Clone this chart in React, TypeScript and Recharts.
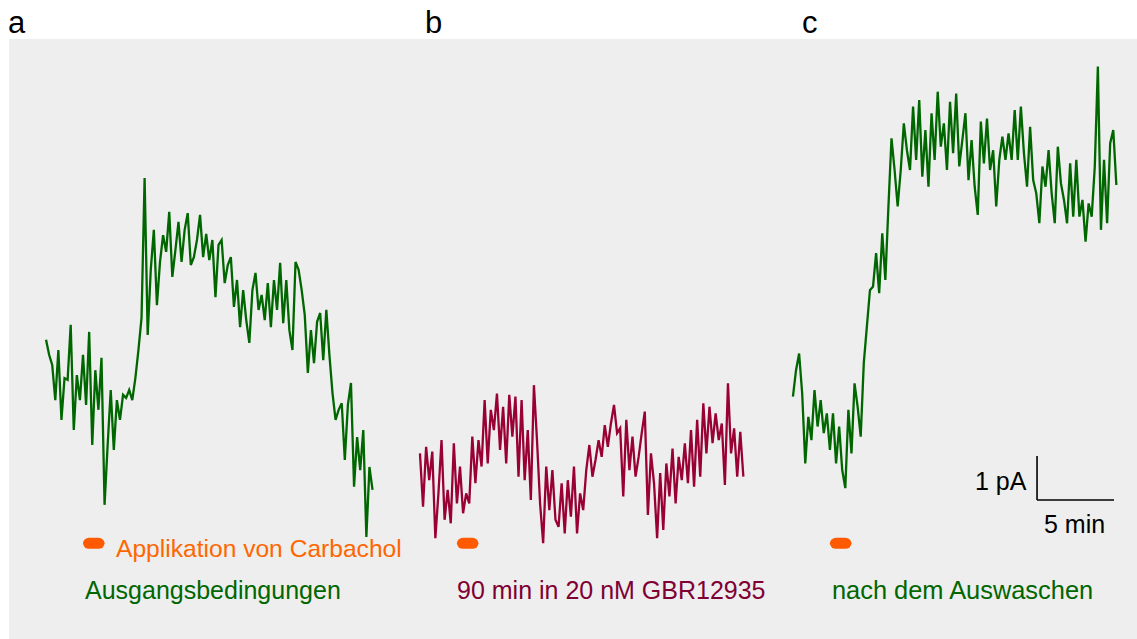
import React from 'react';
import { LineChart, Line, XAxis, YAxis, ReferenceLine, ReferenceArea } from 'recharts';

const W = 1137;
const H = 639;
const PX_PER_MIN = 15.4; // 5 min scale bar = 77 px
const PX_PER_PA = 44; // 1 pA scale bar = 44 px
const ZERO_Y = 500; // pixel row of 0 pA (scale bar base)

const SAMPLE_MIN = 0.2;
const traceStarts = [2.99, 27.27, 51.49];
const pulseWindow = [2.4, 3.8]; // Carbachol application, min after trace start

// a: Ausgangsbedingungen (pA)
const controlPA = [
  3.64, 3.30, 3.07, 2.27, 3.41, 1.82, 2.77, 2.73, 3.98, 1.59,
  2.84, 2.27, 3.30, 2.16, 3.82, 1.25, 2.95, 2.05, 3.23, -0.11,
  1.25, 2.50, 1.14, 2.27, 1.82, 2.39, 2.32, 2.50, 2.27, 2.77,
  3.41, 4.14, 7.32, 3.75, 5.23, 6.14, 4.43, 5.41, 6.02, 5.64,
  6.55, 5.07, 5.68, 6.32, 5.41, 6.14, 6.52, 5.34, 5.52, 5.91,
  6.48, 5.52, 6.05, 5.45, 5.91, 4.61, 5.80, 5.91, 4.93, 5.34,
  5.52, 4.39, 5.00, 3.93, 4.77, 4.09, 3.57, 4.77, 5.16, 4.32,
  4.66, 4.09, 4.93, 3.93, 5.00, 4.32, 5.39, 4.02, 5.00, 3.86,
  3.41, 5.41, 5.23, 4.77, 4.20, 2.89, 3.86, 3.11, 4.05, 4.25,
  3.18, 4.32, 3.30, 2.43, 1.82, 2.05, 2.20, 0.91, 2.16, 2.66,
  0.30, 1.43, 0.68, 1.59, -0.84, 0.75, 0.23,
];

// b: 90 min in 20 nM GBR12935 (pA)
const gbrPA = [
  1.06, -0.15, 1.21, 0.45, 1.10, -0.87, 0.15, 1.36, -0.45, 0.23,
  -0.53, 1.29, -0.08, 0.76, -0.30, 0.15, -0.08, 1.44, 0.38, 1.36,
  0.76, 2.27, 0.83, 2.05, 1.59, 2.42, 1.14, 2.12, 0.83, 2.39,
  1.44, 2.35, 0.53, 2.27, 0.45, 1.59, 0.00, 2.61, 1.36, -0.08,
  -0.98, 0.76, -0.23, 0.68, -0.45, -0.61, 0.38, -0.76, 0.45, -0.38,
  0.76, -0.76, 0.15, -0.23, 0.68, 1.25, 0.53, 0.91, 1.36, 0.98,
  1.70, 1.21, 1.74, 2.16, 1.52, 1.63, 0.08, 1.82, 0.68, 1.44,
  0.53, 0.98, 1.52, 2.01, -0.34, 1.06, 0.38, -0.87, 0.61, -0.68,
  0.83, 0.08, 1.17, -0.08, 0.98, 0.45, 1.29, 0.38, 1.59, 0.30,
  1.82, 0.53, 2.20, 1.06, 2.12, 1.29, 1.97, 1.36, 1.74, 0.34,
  2.65, 1.06, 1.63, 0.53, 1.55, 0.53,
];

// c: nach dem Auswaschen (pA)
const washoutPA = [
  2.35, 2.95, 3.33, 2.42, 0.83, 1.89, 1.36, 2.50, 1.67, 2.27,
  1.52, 1.97, 1.14, 1.97, 0.83, 1.67, 0.68, 0.27, 2.05, 1.06,
  2.65, 2.12, 1.44, 3.11, 3.94, 4.77, 4.85, 5.61, 4.70, 6.06,
  5.00, 6.67, 8.22, 7.50, 6.67, 7.50, 8.56, 7.95, 7.50, 8.94,
  7.73, 9.09, 7.35, 8.41, 7.12, 8.79, 7.73, 9.28, 8.03, 8.56,
  7.50, 9.05, 7.88, 9.24, 7.58, 8.18, 8.79, 7.27, 8.18, 7.12,
  6.48, 8.60, 7.65, 8.67, 7.50, 7.95, 6.67, 7.73, 8.26, 7.73,
  8.33, 7.73, 8.86, 7.73, 8.94, 7.88, 7.12, 8.48, 7.27, 6.97,
  6.29, 7.58, 7.12, 7.95, 6.97, 6.29, 8.03, 7.20, 6.82, 6.29,
  7.65, 6.44, 7.73, 6.44, 6.82, 5.87, 6.74, 6.44, 7.58, 9.85,
  6.14, 7.73, 6.29, 8.11, 8.41, 7.16,
];

const panelLabels = ['a', 'b', 'c'];
const captions = ['Ausgangsbedingungen', '90 min in 20 nM GBR12935', 'nach dem Auswaschen'];
const pulseLabel = 'Applikation von Carbachol';
const scaleBar = { x: 67.34, minutes: 5, pA: 1 };

const GREEN = '#006600';
const CRIMSON = '#990033';
const ORANGE = '#ff6600';

const toSeries = (vals: number[], start: number) =>
  vals.map((v, i) => ({ t: +(start + i * SAMPLE_MIN).toFixed(2), v }));

const traces = [
  { name: 'control', data: toSeries(controlPA, traceStarts[0]), color: GREEN },
  { name: 'gbr', data: toSeries(gbrPA, traceStarts[1]), color: CRIMSON },
  { name: 'washout', data: toSeries(washoutPA, traceStarts[2]), color: GREEN },
];

const Pill = (props: any) => (
  <rect x={props.x} y={props.y} width={props.width} height={props.height} rx={6} ry={6} fill="#ff5a00" />
);

export default function App() {
  const font = '"Liberation Sans", Arial, sans-serif';
  return (
    <div style={{ position: 'relative', width: W, height: H, background: '#fff', fontFamily: font }}>
      <style>{'body{margin:0}'}</style>
      <div style={{ position: 'absolute', left: 9, top: 39, right: 0, bottom: 0, background: '#eeeeee' }} />
      <div style={{ position: 'absolute', left: 0, top: 0 }}>
        <LineChart width={W} height={H} margin={{ top: 0, right: 0, bottom: 0, left: 0 }}>
          <XAxis type="number" dataKey="t" hide domain={[0, W / PX_PER_MIN]} allowDataOverflow />
          <YAxis type="number" dataKey="v" hide domain={[(ZERO_Y - H) / PX_PER_PA, ZERO_Y / PX_PER_PA]} allowDataOverflow />
          {traceStarts.map((s) => (
            <ReferenceArea
              key={'p' + s}
              x1={s + pulseWindow[0]}
              x2={s + pulseWindow[1]}
              y1={-0.86}
              y2={-1.11}
              shape={Pill}
            />
          ))}
          {traces.map((tr) => (
            <Line
              key={tr.name}
              data={tr.data}
              dataKey="v"
              type="linear"
              stroke={tr.color}
              strokeWidth={2.3}
              strokeLinejoin="miter"
              dot={false}
              activeDot={false}
              isAnimationActive={false}
            />
          ))}
          <ReferenceLine
            segment={[{ x: scaleBar.x, y: 0 }, { x: scaleBar.x, y: scaleBar.pA }]}
            stroke="#000"
            strokeWidth={1.6}
          />
          <ReferenceLine
            segment={[{ x: scaleBar.x, y: 0 }, { x: scaleBar.x + scaleBar.minutes, y: 0 }]}
            stroke="#000"
            strokeWidth={1.6}
          />
        </LineChart>
      </div>
      <svg width={W} height={H} style={{ position: 'absolute', left: 0, top: 0, pointerEvents: 'none' }}>
        <g fontFamily={font} fontSize={31} fill="#000">
          <text x={8} y={33}>{panelLabels[0]}</text>
          <text x={425} y={33}>{panelLabels[1]}</text>
          <text x={802} y={33}>{panelLabels[2]}</text>
        </g>
        <text x={116} y={557} fontFamily={font} fontSize={24.6} fill={ORANGE}>{pulseLabel}</text>
        <g fontFamily={font} fontSize={25}>
          <text x={85} y={599} fill={GREEN}>{captions[0]}</text>
          <text x={457} y={599} fill="#800033">{captions[1]}</text>
          <text x={832} y={599} fontSize={25.4} fill={GREEN}>{captions[2]}</text>
        </g>
        <g fontFamily={font} fontSize={25} fill="#000">
          <text x={975} y={490}>1 pA</text>
          <text x={1044} y={533}>5 min</text>
        </g>
      </svg>
    </div>
  );
}
